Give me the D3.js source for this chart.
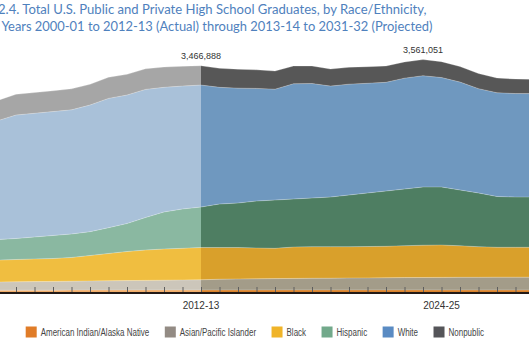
<!DOCTYPE html>
<html>
<head>
<meta charset="utf-8">
<script src="https://cdn.jsdelivr.net/npm/d3@7"></script>
<style>
  body { margin: 0; background: #fff; }
  svg { display: block; }
</style>
</head>
<body>
<div id="chart"></div>
<script>
const width = 529;
const height = 353;

const years = ['2000-01', '2001-02', '2002-03', '2003-04', '2004-05', '2005-06', '2006-07', '2007-08',
    '2008-09', '2009-10', '2010-11', '2011-12', '2012-13', '2013-14', '2014-15', '2015-16', '2016-17',
    '2017-18', '2018-19', '2019-20', '2020-21', '2021-22', '2022-23', '2023-24', '2024-25', '2025-26',
    '2026-27', '2027-28', '2028-29', '2029-30', '2030-31', '2031-32'];
const actualYears = years.slice(0, 13);     // 2000-01 .. 2012-13
const projectedYears = years.slice(12);     // 2012-13 .. 2031-32 (starts on last actual year)

const groups = ['American Indian/Alaska Native', 'Asian/Pacific Islander', 'Black', 'Hispanic', 'White', 'Nonpublic'];

// graduates, thousands
const amIndianActual = [26, 27, 27, 28, 28, 29, 29, 30, 30, 31, 31, 31, 31];
const asianActual = [123, 126, 129, 131, 134, 136, 140, 142, 145, 147, 150, 153, 156];
const blackActual = [326, 334, 342, 347, 351, 364, 390, 418, 445, 465, 478, 485, 495];
const hispanicActual = [291, 317, 322, 337, 353, 360, 365, 395, 429, 498, 567, 603, 620];
const whiteActual = [1770, 1820, 1892, 1895, 1899, 1902, 1941, 1982, 1969, 1964, 1910, 1884, 1869];
const nonpublicActual = [314, 311, 317, 318, 318, 322, 317, 323, 317, 315, 311, 302, 296];

const amIndianProj = [31, 31, 31, 31, 31, 32, 32, 32, 32, 32, 32, 32, 32, 31, 31, 31, 31, 30, 30, 30];
const asianProj = [156, 165, 168, 171, 174, 176, 178, 179, 182, 184, 186, 189, 190, 193, 194, 194, 196, 197, 197, 197];
const blackProj = [495, 486, 483, 472, 464, 481, 484, 483, 480, 481, 482, 488, 495, 496, 483, 469, 458, 458, 458, 458];
const hispanicProj = [620, 666, 681, 720, 740, 736, 746, 761, 792, 820, 847, 869, 892, 889, 855, 823, 778, 770, 770, 770];
const whiteProj = [1869, 1788, 1761, 1726, 1699, 1766, 1755, 1700, 1699, 1681, 1666, 1699, 1705, 1677, 1654, 1599, 1590, 1586, 1585, 1579];
const nonpublicProj = [296, 291, 290, 284, 278, 272, 268, 262, 258, 254, 250, 248, 247, 244, 238, 232, 226, 222, 219, 216];

// data labels
const totalLabelYears = ['2012-13', '2024-25'];
const totalLabelValues = [3466888, 3561051];

// axis labels as printed (the second one sits one category to the right in the source)
const axisLabels = ['2012-13', '2024-25'];
const axisLabelAt = ['2012-13', '2025-26'];

const actualColors = ['#f0ad6a', '#ccc6ba', '#f0be40', '#8ab8a1', '#a9c1d9', '#a6a6a6'];
const projColors = ['#d9822b', '#a39c89', '#d9a02b', '#4e7e62', '#6f98bf', '#575757'];
const legendColors = ['#e07c28', '#938b84', '#f0b429', '#72a98b', '#5a8bc3', '#555559'];

function table(yrs, cols) {
    return yrs.map((yr, i) => {
        const row = { year: yr };
        groups.forEach((g, j) => { row[g] = cols[j][i]; });
        return row;
    });
}

const actualRows = table(actualYears,
    [amIndianActual, asianActual, blackActual, hispanicActual, whiteActual, nonpublicActual]);
const projRows = table(projectedYears,
    [amIndianProj, asianProj, blackProj, hispanicProj, whiteProj, nonpublicProj]);

const svg = d3.select('#chart')
    .append('svg')
    .attr('width', width)
    .attr('height', height);

const x = d3.scalePoint()
    .domain(years)
    .range([-21, 552.5]);

const y = d3.scaleLinear()
    .domain([0, 3500])
    .range([292, 63.6]);

const stack = d3.stack().keys(groups);

const area = d3.area()
    .x((d) => x(d.data.year))
    .y0((d) => y(d[0]))
    .y1((d) => y(d[1]));

const edge = d3.line()
    .x((d) => x(d.data.year))
    .y((d) => y(d[1]));

[[actualRows, actualColors], [projRows, projColors]].forEach(([rows, colors]) => {
    const layers = stack(rows);
    svg.append('g')
        .selectAll('path')
        .data(layers)
        .join('path')
        .attr('d', area)
        .attr('fill', (d, i) => colors[i]);
    svg.append('g')
        .selectAll('path')
        .data(layers)
        .join('path')
        .attr('d', edge)
        .attr('fill', 'none')
        .attr('stroke', '#fff')
        .attr('stroke-opacity', 0.35)
        .attr('stroke-width', 0.7);
});

// x axis with inward ticks
const xAxis = svg.append('g')
    .attr('transform', 'translate(0,292)')
    .call(d3.axisBottom(x).tickSizeInner(-5).tickSizeOuter(0).tickFormat(''));
xAxis.select('.domain').remove();
xAxis.selectAll('.tick line').attr('stroke', '#5e5e5e');

svg.append('line')
    .attr('x1', 0)
    .attr('x2', width)
    .attr('y1', 293)
    .attr('y2', 293)
    .attr('stroke', '#231a16')
    .attr('stroke-width', 2);

svg.append('g')
    .selectAll('text')
    .data(axisLabels)
    .join('text')
    .attr('x', (d, i) => x(axisLabelAt[i]))
    .attr('y', 309)
    .text((d) => d)
    .style('font-size', '10px')
    .style('text-anchor', 'middle')
    .style('font-family', 'Liberation Sans, Arial, sans-serif')
    .style('fill', '#333');

// total labels
const totals = new Map(projRows.map((r) => [r.year, d3.sum(groups, (g) => r[g])]));
svg.append('g')
    .selectAll('text')
    .data(totalLabelValues)
    .join('text')
    .attr('x', (d, i) => x(totalLabelYears[i]))
    .attr('y', (d, i) => y(totals.get(totalLabelYears[i])) - 7)
    .text((d) => d3.format(',')(d))
    .style('font-size', '9px')
    .style('text-anchor', 'middle')
    .style('font-family', 'Liberation Sans, Arial, sans-serif')
    .style('fill', '#333');

// title: the picture is cropped, so fit the visible part of each line
const titleLines = [
    { text: 'Figure 2.4. Total U.S. Public and Private High School Graduates, by Race/Ethnicity,', cut: 7, from: -2, to: 427, y: 13.5 },
    { text: 'School Years 2000-01 to 2012-13 (Actual) through 2013-14 to 2031-32 (Projected)', cut: 7, from: 1.5, to: 433, y: 31.2 },
];
titleLines.forEach((l) => {
    const t = svg.append('text')
        .attr('y', l.y)
        .text(l.text)
        .style('font-size', '14px')
        .style('font-family', 'Lato, sans-serif')
        .style('fill', '#4f81bd');
    const full = t.node().getComputedTextLength();
    const pre = t.node().getSubStringLength(0, l.cut);
    const k = (l.to - l.from) / (full - pre);
    t.style('font-size', `${14 * k}px`)
        .attr('x', l.from - pre * k);
});

// legend
const legend = svg.append('g').attr('transform', 'translate(25.7,326.5)');
let lx = 0;
let squeeze = null;
groups.forEach((g, i) => {
    const item = legend.append('g').attr('transform', `translate(${lx},0)`);
    item.append('rect')
        .attr('width', 11)
        .attr('height', 11)
        .attr('fill', legendColors[i]);
    const t = item.append('text')
        .attr('x', 15)
        .attr('y', 9.3)
        .text(g)
        .style('font-size', '10px')
        .style('font-family', 'Liberation Sans, Arial, sans-serif')
        .style('fill', '#454545');
    const w = t.node().getComputedTextLength();
    if (squeeze === null) squeeze = 108.6 / w;
    t.attr('textLength', w * squeeze).attr('lengthAdjust', 'spacingAndGlyphs');
    lx += 15 + w * squeeze + 15.5;
});
</script>
</body>
</html>
